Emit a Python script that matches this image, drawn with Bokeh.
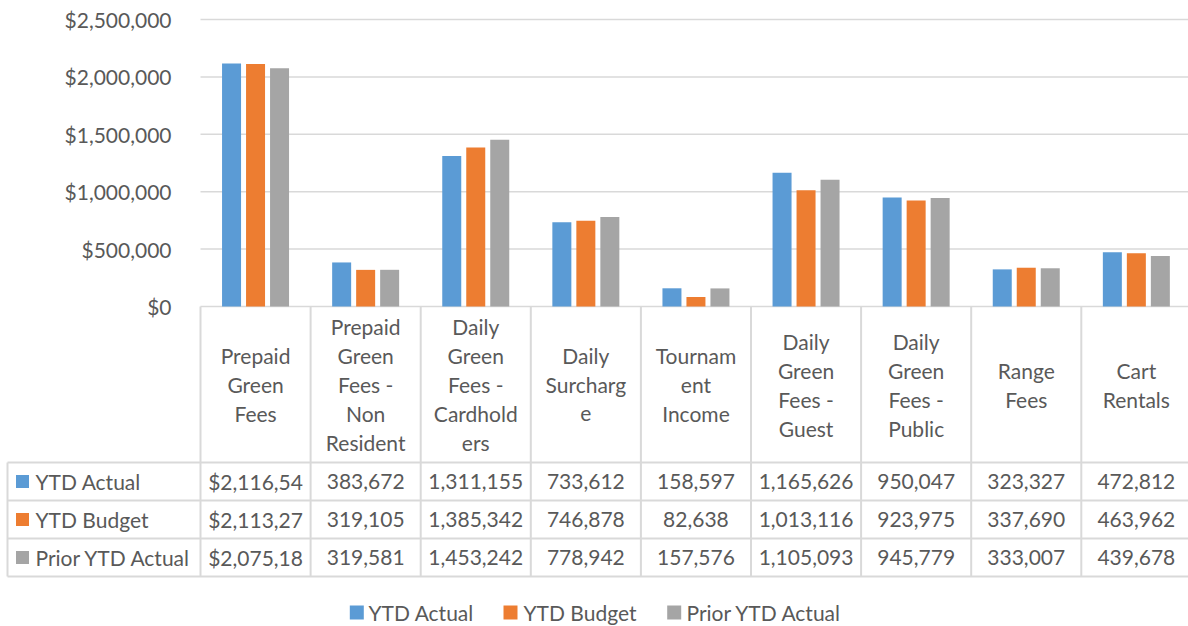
from bokeh.plotting import figure
from bokeh.models import Range1d, ColumnDataSource
from bokeh.core.properties import value
from bokeh.embed import file_html
from bokeh.resources import INLINE

# ---------------- data ----------------
categories = [
    "Prepaid\nGreen\nFees",
    "Prepaid\nGreen\nFees -\nNon\nResident",
    "Daily\nGreen\nFees -\nCardhold\ners",
    "Daily\nSurcharg\ne",
    "Tournam\nent\nIncome",
    "Daily\nGreen\nFees -\nGuest",
    "Daily\nGreen\nFees -\nPublic",
    "Range\nFees",
    "Cart\nRentals",
]
series_names = ["YTD Actual", "YTD Budget", "Prior YTD Actual"]
ytd_actual = [2116540, 383672, 1311155, 733612, 158597, 1165626, 950047, 323327, 472812]
ytd_budget = [2113270, 319105, 1385342, 746878, 82638, 1013116, 923975, 337690, 463962]
prior_ytd_actual = [2075180, 319581, 1453242, 778942, 157576, 1105093, 945779, 333007, 439678]
y_ticks = [0, 500000, 1000000, 1500000, 2000000, 2500000]
y_tick_labels = ["$0", "$500,000", "$1,000,000", "$1,500,000", "$2,000,000", "$2,500,000"]
colors = ["#5B9BD5", "#ED7D31", "#A5A5A5"]

# ---------------- layout constants ----------------
W, H = 1188, 626
FL, FT, Y0 = 200, 19, 306        # plot-area left, $2.5M line, $0 line (px)
COL = 110.1                      # px per category column
YMAX = 2500000
PXV = YMAX / (Y0 - FT)           # dollars per pixel
TXT = "#595959"
GRID = "#D9D9D9"
FONT = "Lato"
FS = "21px"
n = len(categories)
series = [ytd_actual, ytd_budget, prior_ytd_actual]

p = figure(width=W, height=H, output_backend="svg", toolbar_location=None,
           x_range=Range1d(-FL / COL, (W - FL) / COL),
           y_range=Range1d(-(H - Y0) * PXV, YMAX + FT * PXV),
           min_border_left=0, min_border_right=0, min_border_top=0, min_border_bottom=0,
           x_axis_location=None, y_axis_location=None)
p.outline_line_color = None
p.background_fill_color = "white"
p.border_fill_color = "white"
p.xgrid.visible = False
p.ygrid.visible = False
p.extra_x_ranges = {"px": Range1d(0, W)}
p.extra_y_ranges = {"px": Range1d(start=H, end=0)}

# ---------------- value axis: gridlines + tick labels ----------------
p.segment(x0=[0] * len(y_ticks), x1=[(W - FL) / COL] * len(y_ticks), y0=y_ticks, y1=y_ticks,
          line_color=GRID, line_width=1.5)
p.text(x=[-29 / COL] * len(y_ticks), y=y_ticks, text=y_tick_labels,
       text_align="right", text_baseline="middle",
       text_font=value(FONT), text_font_size=value(FS), text_color=TXT)

# ---------------- bars ----------------
offsets = [-24 / COL, 0.0, 24 / COL]
bar_w = 19 / COL
for vals, off, col, nm in zip(series, offsets, colors, series_names):
    src = ColumnDataSource(dict(x=[i + 0.5 + off for i in range(n)], top=vals))
    p.vbar(x="x", top="top", bottom=0, width=bar_w, source=src,
           fill_color=col, line_color=None, name=nm)

# ---------------- data table ----------------
HEAD_BOT = 462
ROW_H = 38
row_top = [HEAD_BOT + k * ROW_H for k in range(4)]
row_c = [HEAD_BOT + (k + 0.5) * ROW_H for k in range(3)]
LEFT = 7

# column lines (category units)
p.segment(x0=list(range(n + 1)), x1=list(range(n + 1)),
          y0=[Y0] * (n + 1), y1=[row_top[-1]] * (n + 1),
          line_color=GRID, line_width=2, y_range_name="px")
# row lines + left border (pixel units)
p.segment(x0=[LEFT] * 5, x1=[W] * 4 + [LEFT],
          y0=row_top + [row_top[0]], y1=row_top + [row_top[-1]],
          line_color=GRID, line_width=2, x_range_name="px", y_range_name="px")

# category header text
hx, hy, ht = [], [], []
head_c = (Y0 + HEAD_BOT) / 2
LH = 29
for i, cat in enumerate(categories):
    lines = cat.split("\n")
    m = len(lines)
    for j, ln in enumerate(lines):
        hx.append(i + 0.5)
        hy.append(head_c + (j - (m - 1) / 2) * LH)
        ht.append(ln)
p.text(x="x", y="y", text="t", source=ColumnDataSource(dict(x=hx, y=hy, t=ht)),
       y_range_name="px", text_align="center", text_baseline="middle",
       text_font=value(FONT), text_font_size=value(FS), text_color=TXT)

# value cells
cx, cy, ct = [], [], []
for k, vals in enumerate(series):
    for i, v in enumerate(vals):
        s = f"{v:,}"
        if i == 0:
            s = f"${v:,}"[:9]   # first column: currency format, clipped by its cell
        cx.append(i + 0.5)
        cy.append(row_c[k])
        ct.append(s)
p.text(x="x", y="y", text="t", source=ColumnDataSource(dict(x=cx, y=cy, t=ct)),
       y_range_name="px", text_align="center", text_baseline="middle",
       text_font=value(FONT), text_font_size=value(FS), text_color=TXT)

# row headers: key squares + series names
p.rect(x=[22] * 3, y=row_c, width=13, height=13, fill_color=colors, line_color=None,
       x_range_name="px", y_range_name="px")
p.text(x=[35] * 3, y=row_c, text=series_names, text_align="left", text_baseline="middle",
       text_font=value(FONT), text_font_size=value(FS), text_color=TXT,
       x_range_name="px", y_range_name="px")

# legend (bottom)
LEG_Y = 612
leg_sq_x = [356.3, 510, 673.7]
leg_tx_x = [368, 523, 686]
p.rect(x=leg_sq_x, y=[LEG_Y] * 3, width=14, height=14, fill_color=colors, line_color=None,
       x_range_name="px", y_range_name="px")
p.text(x=leg_tx_x, y=[LEG_Y] * 3, text=series_names, text_align="left", text_baseline="middle",
       text_font=value(FONT), text_font_size=value(FS), text_color=TXT,
       x_range_name="px", y_range_name="px")

open("out.html", "w").write(file_html(p, INLINE))
